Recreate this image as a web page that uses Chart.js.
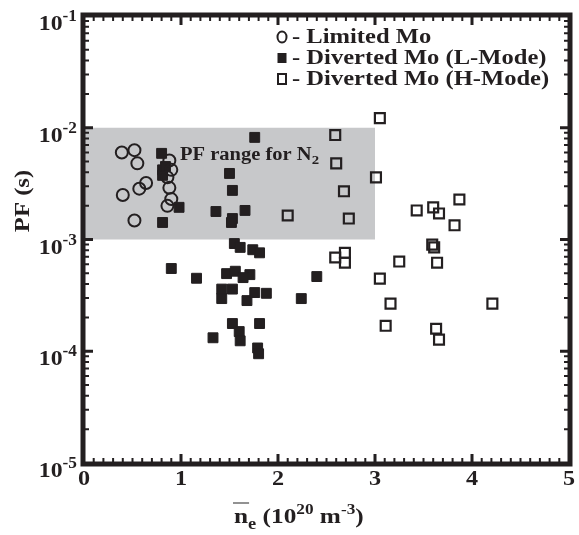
<!DOCTYPE html>
<html>
<head>
<meta charset="utf-8">
<title>PF vs ne</title>
<script src="https://cdn.jsdelivr.net/npm/chart.js@4/dist/chart.umd.min.js"></script>
<style>
  html, body { margin: 0; padding: 0; background: #fff; }
  canvas { display: block; }
</style>
</head>
<body>
<canvas id="pfChart" width="579" height="535"></canvas>
<script>
"use strict"

// data (ne in 1e20 m^-3, PF in s)
const limitedNe = [0.39, 0.52, 0.55, 0.64, 0.57, 0.40, 0.52, 0.88, 0.90, 0.86, 0.88, 0.90, 0.86];
const limitedPF = [6.0e-3, 6.3e-3, 4.8e-3, 3.2e-3, 2.85e-3, 2.5e-3, 1.48e-3, 5.1e-3, 4.2e-3, 3.6e-3, 2.9e-3, 2.3e-3, 2.0e-3];

const lModeNe = [0.80, 0.81, 0.81, 0.84, 0.81, 0.98, 1.36, 1.50, 1.53, 1.53, 1.52, 1.66, 1.76,
  1.55, 1.61, 1.74, 1.81, 0.90, 1.16, 1.47, 1.56, 1.71, 1.64, 1.42, 1.53, 1.42, 1.68, 1.76, 1.88,
  1.53, 1.60, 1.61, 1.81, 1.33, 1.79, 1.80, 2.40, 2.24];
const lModePF = [5.9e-3, 4.2e-3, 3.75e-3, 4.5e-3, 1.42e-3, 1.94e-3, 1.78e-3, 3.9e-3, 2.75e-3, 1.54e-3, 1.42e-3, 1.82e-3, 8.2e-3,
  9.2e-4, 8.5e-4, 8.1e-4, 7.6e-4, 5.5e-4, 4.5e-4, 4.95e-4, 5.2e-4, 4.85e-4, 4.56e-4, 3.6e-4, 3.6e-4, 2.96e-4, 2.84e-4, 3.35e-4, 3.3e-4,
  1.77e-4, 1.5e-4, 1.24e-4, 1.77e-4, 1.32e-4, 1.07e-4, 9.5e-5, 4.66e-4, 2.96e-4];

const hModeNe = [3.05, 2.59, 2.60, 3.01, 2.68, 2.73, 2.10, 3.43, 3.60, 3.66, 3.87, 3.82, 3.59,
  3.61, 3.64, 3.25, 3.05, 3.16, 3.11, 3.63, 3.66, 4.21, 2.59, 2.69, 2.69];
const hModePF = [1.22e-2, 8.6e-3, 4.8e-3, 3.6e-3, 2.7e-3, 1.54e-3, 1.64e-3, 1.82e-3, 1.94e-3, 1.71e-3, 2.28e-3, 1.34e-3, 9.0e-4,
  8.5e-4, 6.2e-4, 6.35e-4, 4.47e-4, 2.67e-4, 1.69e-4, 1.59e-4, 1.27e-4, 2.67e-4, 6.9e-4, 7.6e-4, 6.2e-4];

const seriesNames = ["- Limited Mo", "- Diverted Mo (L-Mode)", "- Diverted Mo (H-Mode)"];
const xTicks = [0, 1, 2, 3, 4, 5];
const yTickExps = [-1, -2, -3, -4, -5];
const n2Band = { neMax: 3, pfLow: 1e-3, pfHigh: 1e-2 };

const ink = "#231f20";
const serif = "\"Liberation Serif\", \"Times New Roman\", serif";

function toPoints(xs, ys) {
  return xs.map((v, i) => ({ x: v, y: ys[i] }));
}

// draws text pieces in a row: [text, size, baseline shift], sx = horizontal stretch
function drawRich(ctx, x, y, parts, sx) {
  sx = sx || 1;
  ctx.save();
  ctx.translate(x, y);
  ctx.scale(sx, 1);
  let cx = 0;
  for (let p of parts) {
    ctx.font = `bold ${p[1]}px ${serif}`;
    ctx.fillText(p[0], cx, p[2] || 0);
    cx += ctx.measureText(p[0]).width;
  }
  ctx.restore();
  return x + cx * sx;
}

function richWidth(ctx, parts, sx) {
  let w = 0;
  for (let p of parts) {
    ctx.font = `bold ${p[1]}px ${serif}`;
    w += ctx.measureText(p[0]).width;
  }
  return w * (sx || 1);
}

const decorPlugin = {
  id: "decor",
  beforeDatasetsDraw(chart) {
    const { ctx, scales: { x, y } } = chart;
    ctx.save();
    const left = x.getPixelForValue(0);
    const right = x.getPixelForValue(n2Band.neMax);
    const top = y.getPixelForValue(n2Band.pfHigh);
    const bottom = y.getPixelForValue(n2Band.pfLow);
    ctx.fillStyle = "#c7c8ca";
    ctx.fillRect(left, top, right - left, bottom - top);
    ctx.fillStyle = ink;
    ctx.textBaseline = "alphabetic";
    drawRich(ctx, 180, 160, [["PF range for N", 18], ["2", 13, 4]], 1.14);
    ctx.restore();
  },
  afterDatasetsDraw(chart) {
    const { ctx, chartArea: a, scales: { x, y } } = chart;
    ctx.save();
    ctx.strokeStyle = ink;
    ctx.fillStyle = ink;

    // frame
    ctx.lineWidth = 5;
    ctx.strokeRect(a.left - 1, a.top - 1, a.right - a.left + 2, a.bottom - a.top + 2);

    // x ticks
    for (let i = 1; i < 50; i++) {
      const v = i / 10;
      const px = x.getPixelForValue(v);
      const major = i % 10 === 0;
      const len = major ? 9 : 5;
      ctx.lineWidth = major ? 3 : 2;
      ctx.beginPath();
      ctx.moveTo(px, a.bottom);
      ctx.lineTo(px, a.bottom - len);
      ctx.moveTo(px, a.top);
      ctx.lineTo(px, a.top + len);
      ctx.stroke();
    }
    // y ticks
    for (let e = -5; e <= -2; e++) {
      for (let m = 1; m < 10; m++) {
        if (m === 1 && e === -5) continue;
        const py = y.getPixelForValue(m * Math.pow(10, e));
        const major = m === 1;
        const len = major ? 9 : 5;
        ctx.lineWidth = major ? 3 : 2;
        ctx.beginPath();
        ctx.moveTo(a.left, py);
        ctx.lineTo(a.left + len, py);
        ctx.moveTo(a.right, py);
        ctx.lineTo(a.right - len, py);
        ctx.stroke();
      }
    }

    // tick labels
    ctx.textBaseline = "alphabetic";
    for (let t of xTicks) {
      const parts = [[String(t), 22, 0]];
      const w = richWidth(ctx, parts, 1.1);
      drawRich(ctx, x.getPixelForValue(t) - w / 2, a.bottom + 22, parts, 1.1);
    }
    for (let e of yTickExps) {
      const py = y.getPixelForValue(Math.pow(10, e));
      const parts = [["10", 22, 0], [String(e), 16, -9]];
      const w = richWidth(ctx, parts, 1.08);
      drawRich(ctx, a.left - 7 - w, py + 14, parts, 1.08);
    }

    // axis titles
    const titleParts = [["n", 22, 0], ["e", 16, 6], [" (10", 22, 0], ["20", 15, -9], [" m", 22, 0], ["-3", 15, -9], [")", 22, 0]];
    const tx = 234, ty = 523, stretch = 1.15;
    drawRich(ctx, tx, ty, titleParts, stretch);
    ctx.font = `bold 22px ${serif}`;
    const nW = ctx.measureText("n").width * stretch;
    ctx.lineWidth = 1.6;
    ctx.strokeStyle = "#777";
    ctx.beginPath();
    ctx.moveTo(tx - 1, ty - 20);
    ctx.lineTo(tx + nW + 1, ty - 20);
    ctx.stroke();

    ctx.save();
    ctx.translate(29, 201);
    ctx.rotate(-Math.PI / 2);
    const yTitle = [["PF (s)", 22, 0]];
    drawRich(ctx, -richWidth(ctx, yTitle, 1.12) / 2, 0, yTitle, 1.12);
    ctx.restore();

    // legend
    ctx.strokeStyle = ink;
    const legendRows = [37, 58, 79];
    ctx.lineWidth = 2;
    ctx.beginPath();
    ctx.ellipse(282, legendRows[0], 4.5, 5.5, 0, 0, Math.PI * 2);
    ctx.stroke();
    ctx.fillRect(277.5, legendRows[1] - 5, 9, 10);
    ctx.strokeRect(278, legendRows[2] - 5, 8, 10);
    for (let i = 0; i < seriesNames.length; i++) {
      drawRich(ctx, 292, legendRows[i] + 6, [[seriesNames[i], 21, 0]], 1.17);
    }
    ctx.restore();
  }
};

const ctx = document.getElementById("pfChart").getContext("2d");

const pfChart = new Chart(ctx, {
  type: "scatter",
  data: {
    datasets: [{
      label: seriesNames[0],
      data: toPoints(limitedNe, limitedPF),
      pointStyle: "circle",
      pointRadius: 6,
      borderWidth: 2,
      borderColor: ink,
      backgroundColor: "rgba(0,0,0,0)"
    }, {
      label: seriesNames[1],
      data: toPoints(lModeNe, lModePF),
      pointStyle: "rect",
      pointRadius: 7,
      borderWidth: 1,
      borderColor: ink,
      backgroundColor: ink
    }, {
      label: seriesNames[2],
      data: toPoints(hModeNe, hModePF),
      pointStyle: "rect",
      pointRadius: 7,
      borderWidth: 2.2,
      borderColor: ink,
      backgroundColor: "rgba(0,0,0,0)"
    }]
  },
  options: {
    responsive: false,
    animation: false,
    devicePixelRatio: 1,
    events: [],
    layout: { padding: { left: 84, top: 16, right: 10, bottom: 72 } },
    scales: {
      x: { type: "linear", min: 0, max: 5, display: false },
      y: { type: "logarithmic", min: 1e-5, max: 1e-1, display: false }
    },
    plugins: {
      legend: { display: false },
      tooltip: { enabled: false }
    }
  },
  plugins: [decorPlugin]
});
</script>
</body>
</html>
